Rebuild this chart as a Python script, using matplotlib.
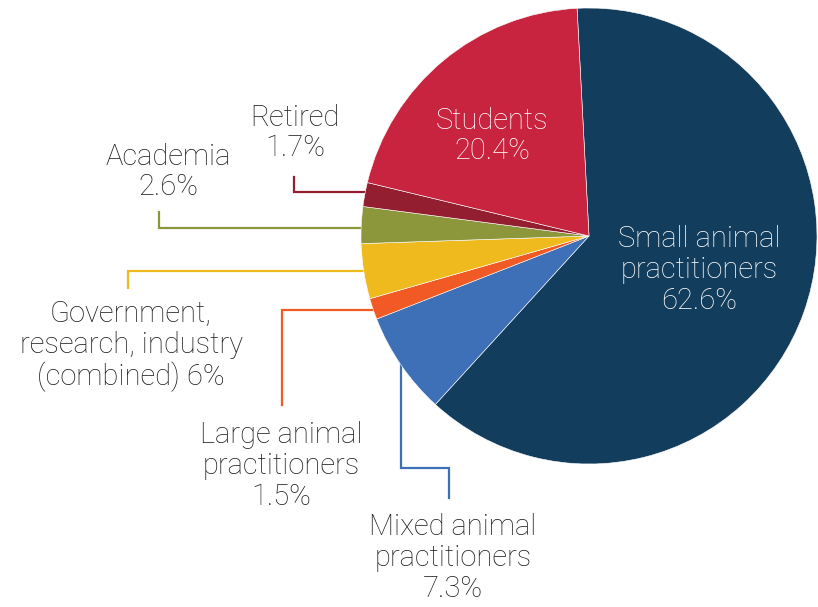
import matplotlib.pyplot as plt

# data (clockwise from top)
categories = ['Small animal practitioners', 'Mixed animal practitioners',
              'Large animal practitioners', 'Government, research, industry',
              'Academia', 'Retired', 'Students']
shares = [62.6, 7.3, 1.5, 3.9, 2.6, 1.7, 20.4]
label_texts = ['Small animal\npractitioners\n62.6%', 'Mixed animal\npractitioners\n7.3%',
               'Large animal\npractitioners\n1.5%',
               'Government,\nresearch, industry\n(combined) 6%',
               'Academia\n2.6%', 'Retired\n1.7%', 'Students\n20.4%']
colors = ['#133d5c', '#3e70b8', '#f15a24', '#efba1e', '#8c963a', '#921e30', '#c8243f']

W, H = 818, 607
plt.rcParams['font.family'] = ['Roboto', 'DejaVu Sans']


def py(y):
    # image y (top-down) -> axes y (bottom-up)
    return H - y


fig = plt.figure(figsize=(W / 100, H / 100), dpi=100)
ax = fig.add_axes([0, 0, 1, 1])

cx, cy, r = 589, 236, 228
ax.pie(shares, colors=colors, startangle=93, counterclock=False,
       center=(cx, py(cy)), radius=r, frame=True,
       wedgeprops={'edgecolor': 'white', 'linewidth': 0.4})
ax.set_xlim(0, W)
ax.set_ylim(0, H)
ax.set_aspect('equal')
ax.axis('off')

fs = 21
txt = dict(ha='center', va='center', fontsize=fs, fontweight='light',
           linespacing=1.13, color='#1e1e1e')

# labels inside the pie
ax.text(699, py(270), label_texts[0], **dict(txt, color='white'))
ax.text(492, py(136), label_texts[6], **dict(txt, color='white'))

# outside labels
ax.text(295, py(133), label_texts[5], **txt)
ax.text(168, py(172), label_texts[4], **txt)
ax.text(131, py(346), label_texts[3], **txt)
ax.text(281, py(466), label_texts[2], **txt)
ax.text(453, py(558), label_texts[1], **txt)

# leader lines (image coordinates)
lw = 1.6
leaders = [
    ([294, 294, 367], [177, 192, 192], colors[5]),
    ([159, 159, 363], [212, 228, 228], colors[4]),
    ([128, 128, 366], [288, 271, 271], colors[3]),
    ([282, 282, 375], [405, 310, 310], colors[2]),
    ([401, 401, 449, 449], [362, 468, 468, 498], colors[1]),
]
for xs, ys, c in leaders:
    ax.plot(xs, [py(y) for y in ys], color=c, lw=lw, zorder=0,
            solid_joinstyle='miter')

fig.savefig('out.png', dpi=100)
